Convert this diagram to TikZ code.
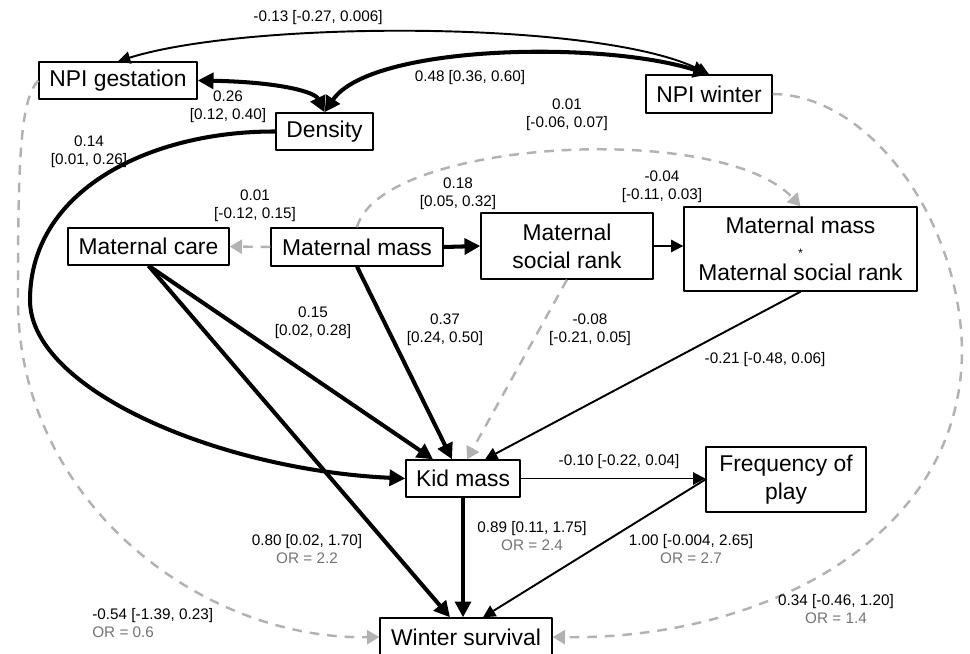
\documentclass[tikz,border=0pt]{standalone}
\usepackage{fontspec}
\setmainfont{Liberation Sans}
\usetikzlibrary{arrows.meta}
\newcommand{\ORtxt}[1]{\textcolor{black!55}{#1}}

\begin{document}
\begin{tikzpicture}[x=0.02cm,y=-0.02cm,join=round,% path model, 1 unit = 1 px
  box/.style={draw,line width=.8pt,fill=white,align=center,inner sep=0pt,font=\fontsize{13}{16}\selectfont},
  lbl/.style={align=center,inner sep=0pt,font=\fontsize{8.7}{10.5}\selectfont},
  strong/.style={line width=2.3pt,>={Triangle[length=9pt,width=9pt]},->},
  weak/.style={line width=1.1pt,>={Triangle[length=7pt,width=7pt]},->},
  ns/.style={line width=1.4pt,black!30,dash pattern=on 5.5pt off 4.5pt,>={Triangle[length=7pt,width=8pt]},->}]
        \clip (0,0) rectangle (970,653);
        \node[box,minimum width=3.16cm,minimum height=.74cm] (gest) at (118,80.5) {NPI gestation};
        \node[box,minimum width=2.52cm,minimum height=.76cm] (winter) at (709,94) {NPI winter};
        \node[box,minimum width=1.94cm,minimum height=.74cm] (dens) at (324.5,131.5) {Density};
        \node[box,minimum width=3.22cm,minimum height=.74cm] (care) at (148.5,246.5) {Maternal care};
        \node[box,minimum width=3.44cm,minimum height=.76cm] (mmass) at (357,247) {Maternal mass};
        \node[box,minimum width=3.44cm,minimum height=1.32cm] (rank) at (567,246) {Maternal\\social rank};
        \node[box,minimum width=4.66cm,minimum height=1.68cm,font=\fontsize{13}{13.4}\selectfont] (inter) at (800.5,249)
                {Maternal mass\\{\scriptsize *}\\Maternal social rank};
        \node[box,minimum width=2.28cm,minimum height=.74cm] (kid) at (463,478.5) {Kid mass};
        \node[box,minimum width=3.2cm,minimum height=1.3cm] (play) at (786,479.5) {Frequency of\\play};
        \node[box,minimum width=3.44cm,minimum height=.76cm] (surv) at (466,637) {Winter survival};
        % correlations
        \draw[weak,<->] (winter.north) .. controls (600,20) and (250,20) .. (gest.north);
        \draw[strong,<->] (winter.north) .. controls (600,40) and (370,45) .. (dens.north);
        \draw[strong,<->] (gest.east) .. controls (280,82) and (315,92) .. (dens.north);
        % paths
        \draw[strong] (dens.west) .. controls (150,131) and (30,190) .. (30,300)
                .. controls (30,390) and (220,470) .. (kid.west);
        \draw[ns] (gest.west) .. controls (20,100) and (18,160) .. (18,300)
                .. controls (18,500) and (200,640) .. (surv.west);
        \draw[ns] (winter.east) .. controls (870,95) and (960,220) .. (962,350)
                .. controls (962,540) and (760,640) .. (surv.east);
        \draw[ns] (mmass.west) -- (care.east);
        \draw[strong] (mmass.east) -- (rank.west);
        \draw[ns] (mmass.north) .. controls (380,140) and (720,120) .. (inter.north);
        \draw[weak] (rank.east) -- (rank.east -| inter.west);
        \draw[strong] (care.south) -- ([xshift=-.6cm]kid.north);
        \draw[strong] (care.south) -- ([xshift=-.32cm]surv.north);
        \draw[strong] (mmass.south) -- ([xshift=-.22cm]kid.north);
        \draw[ns] (rank.south) -- ([xshift=.08cm]kid.north);
        \draw[weak] (inter.south) -- ([xshift=.44cm]kid.north);
        \draw[weak] (kid.east) -- (kid.east -| play.west);
        \draw[strong] (kid.south) -- (kid.south |- surv.north);
        \draw[weak] (play.west) -- ([xshift=.34cm]surv.north);
        % estimates
        \node[lbl] (lgw) at (318,18) {-0.13 [-0.27, 0.006]};
        \node[lbl] (lwd) at (470,78) {0.48 [0.36, 0.60]};
        \node[lbl] (lgd) at (228,107) {0.26\\{[0.12, 0.40]}};
        \node[lbl] (ldk) at (89,152) {0.14\\{[0.01, 0.26]}};
        \node[lbl] (lmw) at (567,115) {0.01\\{[-0.06, 0.07]}};
        \node[lbl] (lri) at (662,187) {-0.04\\{[-0.11, 0.03]}};
        \node[lbl] (lmr) at (458,194) {0.18\\{[0.05, 0.32]}};
        \node[lbl] (lmc) at (255,206) {0.01\\{[-0.12, 0.15]}};
        \node[lbl] (lck) at (313,323) {0.15\\{[0.02, 0.28]}};
        \node[lbl] (lmk) at (445,330) {0.37\\{[0.24, 0.50]}};
        \node[lbl] (lrk) at (590,330) {-0.08\\{[-0.21, 0.05]}};
        \node[lbl] (lik) at (765,360) {-0.21 [-0.48, 0.06]};
        \node[lbl] (lkp) at (619,462) {-0.10 [-0.22, 0.04]};
        \node[lbl] (lks) at (532,536) {0.89 [0.11, 1.75]\\\ORtxt{OR = 2.4}};
        \node[lbl] (lcs) at (307,549) {0.80 [0.02, 1.70]\\\ORtxt{OR = 2.2}};
        \node[lbl] (lps) at (691,549) {1.00 [-0.004, 2.65]\\\ORtxt{OR = 2.7}};
        \node[lbl] (lws) at (836,609) {0.34 [-0.46, 1.20]\\\ORtxt{OR = 1.4}};
        \node[lbl,align=left,anchor=west] (lgs) at (92,623) {-0.54 [-1.39, 0.23]\\\ORtxt{OR = 0.6}};
\end{tikzpicture}
\end{document}
